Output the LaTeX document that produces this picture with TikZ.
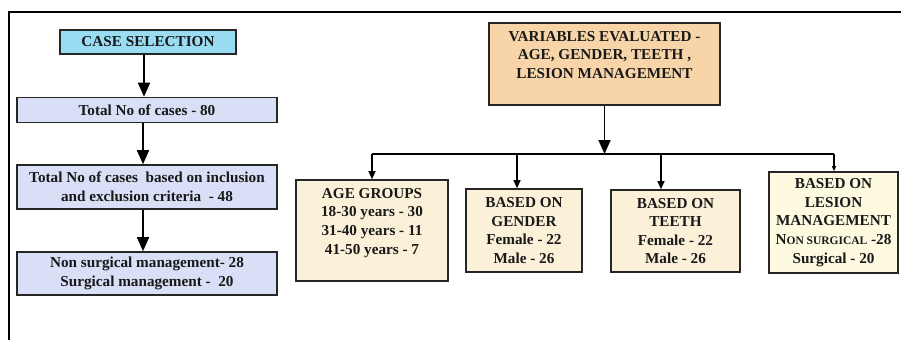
\documentclass[tikz,border=0pt]{standalone}
\usepackage{fontspec}
\setmainfont{Liberation Serif}
\usepackage{tikz}
\usepackage{xcolor}
\usetikzlibrary{arrows.meta}
\definecolor{caseblue}{HTML}{9ADCF2}
\definecolor{countblue}{HTML}{D8DFF6}
\definecolor{varpeach}{HTML}{F8D5A9}
\definecolor{groupcream}{HTML}{FBF0D8}
\definecolor{lesioncream}{HTML}{FDFAE0}
\tikzset{
    flow-box/.style = {draw=black!85, line width=1.6pt, rectangle, align=center, inner sep=2pt, text=black!90, font=\fontsize{15.2}{18.6}\selectfont\bfseries},
    case-box/.style = {flow-box, fill=caseblue, minimum width=176pt, minimum height=24pt},
    count-box/.style = {flow-box, fill=countblue, minimum width=260pt},
    var-box/.style = {flow-box, fill=varpeach},
    group-box/.style = {flow-box, fill=groupcream},
    main-arrow/.style = {-{Triangle[length=14pt,width=12pt]}, line width=1.7pt},
    branch-arrow/.style = {-{Triangle[length=8pt,width=7pt]}, line width=1.1pt},
    small-arrow/.style = {-{Triangle[length=5pt,width=4pt]}, line width=1.1pt},
}

\begin{document}
\begin{tikzpicture}[x=1pt,y=-1pt]
\useasboundingbox (0,0) rectangle (901,340);
\draw[line width=1.5pt] (9,340) -- (9,12) -- (901,12);

% case selection flow
\node[case-box] (case) at (148,42) {CASE SELECTION};
\node[count-box, minimum height=25pt] (total) at (147,110) {Total No of cases - 80};
\node[count-box, minimum height=44pt] (criteria) at (147,187) {Total No of cases\ \ based on inclusion\\and exclusion criteria\ \ - 48};
\node[count-box, minimum height=43pt] (manage) at (147,273.5) {Non surgical management- 28\\Surgical management -\ \ 20};
\draw[main-arrow] ([xshift=-4pt]case.south) -- ([xshift=-4pt]case.south |- total.north);
\draw[main-arrow] ([xshift=-4pt]total.south) -- ([xshift=-4pt]total.south |- criteria.north);
\draw[main-arrow] ([xshift=-4pt]criteria.south) -- ([xshift=-4pt]criteria.south |- manage.north);

% variables
\node[var-box, minimum width=231pt, minimum height=82pt] (vars) at (604.5,64) {VARIABLES EVALUATED -\\AGE, GENDER, TEETH ,\\LESION MANAGEMENT\\ \mbox{}};
\node[group-box, minimum width=152pt, minimum height=101pt] (age) at (372,230.5) {AGE GROUPS\\18-30 years - 30\\31-40 years - 11\\41-50 years - 7\\ \mbox{}};
\node[group-box, minimum width=116pt, minimum height=83pt] (gender) at (524,230.5) {BASED ON\\GENDER\\Female - 22\\Male - 26};
\node[group-box, minimum width=129pt, minimum height=82pt] (teeth) at (675.5,231) {BASED ON\\TEETH\\Female - 22\\Male - 26};
\node[group-box, fill=lesioncream, minimum width=129pt, minimum height=101pt] (lesion) at (833.5,222.5) {BASED ON\\LESION\\MANAGEMENT\\N{\fontsize{11.5}{18.6}\selectfont ON SURGICAL} -28\\Surgical - 20};

\coordinate (bus-age) at (372,154);
\coordinate (bus-gender) at (517,154);
\coordinate (bus-teeth) at (661,154);
\coordinate (bus-lesion) at (834,154);
\draw[main-arrow] (vars.south) -- (vars.south |- bus-age);
\draw[line width=1.1pt] (bus-age) -- (bus-lesion);
\foreach \grp in {age, gender, teeth}
    \draw[branch-arrow] (bus-\grp) -- (bus-\grp |- \grp.north);
\draw[small-arrow] (bus-lesion) -- (bus-lesion |- lesion.north);
\end{tikzpicture}
\end{document}
